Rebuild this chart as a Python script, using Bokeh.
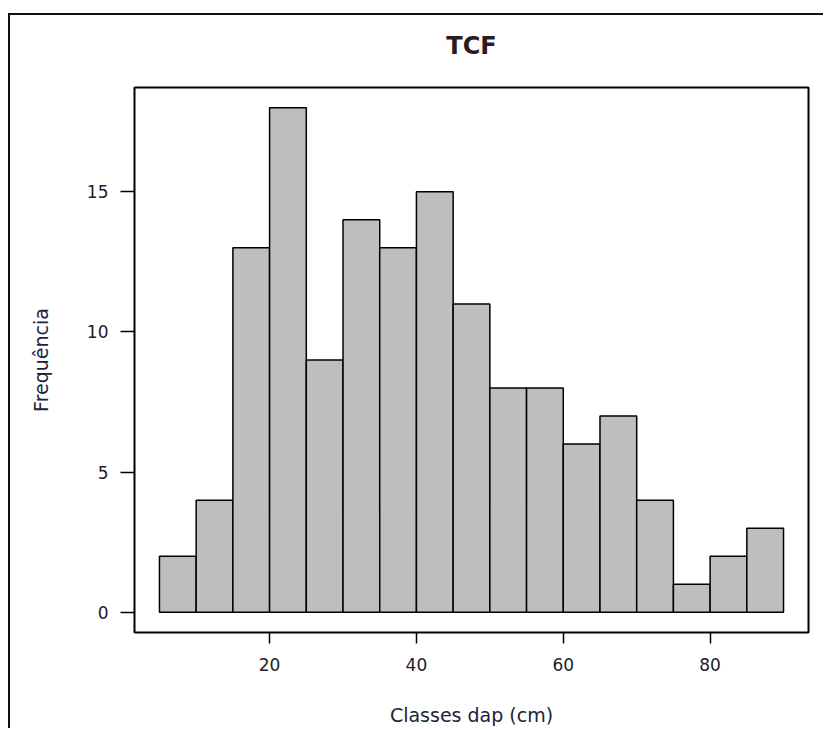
from bokeh.plotting import figure
from bokeh.models import FixedTicker, Range1d
from bokeh.embed import file_html
from bokeh.resources import INLINE

# Histogram data (classes of 5 cm)
bin_left = [5, 10, 15, 20, 25, 30, 35, 40, 45, 50, 55, 60, 65, 70, 75, 80, 85]
bin_right = [10, 15, 20, 25, 30, 35, 40, 45, 50, 55, 60, 65, 70, 75, 80, 85, 90]
counts = [2, 4, 13, 18, 9, 14, 13, 15, 11, 8, 8, 6, 7, 4, 1, 2, 3]
x_ticks = [20, 40, 60, 80]
y_ticks = [0, 5, 10, 15]

FONT = "DejaVu Sans"
TXT = "#1c1c2a"

p = figure(
    width=815, height=721,
    frame_width=674, frame_height=545,
    min_border_left=126, min_border_top=87, min_border_right=15, min_border_bottom=89,
    output_backend="svg", toolbar_location=None,
    x_range=Range1d(1.6, 93.4), y_range=Range1d(-0.72, 18.72),
    title="TCF",
)
# outer picture frame (top and left lines) drawn behind a transparent canvas border
p.styles = {
    "margin-left": "8px",
    "background": "linear-gradient(#111,#111) 0 13px / 100% 2px no-repeat, "
                  "linear-gradient(#111,#111) 0 13px / 2px 100% no-repeat",
}

p.quad(left=bin_left, right=bin_right, bottom=0, top=counts,
       fill_color="#BEBEBE", line_color="black", line_width=1.5)

p.grid.visible = False
p.outline_line_color = "black"
p.outline_line_width = 2
p.background_fill_color = "white"
p.border_fill_alpha = 0

p.title.align = "center"
p.title.text_font = FONT
p.title.text_font_size = "24px"
p.title.text_font_style = "bold"
p.title.text_color = "#2a1a22"
p.title.standoff = 56

for ax in (p.xaxis[0], p.yaxis[0]):
    ax.axis_line_color = None
    ax.minor_tick_line_color = None
    ax.major_tick_in = 0
    ax.major_tick_line_color = "black"
    ax.major_tick_line_width = 1.5
    ax.major_label_text_font = FONT
    ax.major_label_text_font_size = "17px"
    ax.major_label_text_color = TXT
    ax.axis_label_text_font = FONT
    ax.axis_label_text_font_size = "19px"
    ax.axis_label_text_font_style = "normal"
    ax.axis_label_text_color = "#22223a"

p.xaxis[0].ticker = FixedTicker(ticks=x_ticks)
p.xaxis[0].major_tick_out = 11
p.xaxis[0].major_label_standoff = 14
p.xaxis[0].axis_label = "Classes dap (cm)"
p.xaxis[0].axis_label_standoff = 30

p.yaxis[0].ticker = FixedTicker(ticks=y_ticks)
p.yaxis[0].major_tick_out = 14
p.yaxis[0].major_label_standoff = 12
p.yaxis[0].major_label_orientation = "horizontal"
p.yaxis[0].axis_label = "Frequência"
p.yaxis[0].axis_label_standoff = 32

open("out.html", "w").write(file_html(p, INLINE))
